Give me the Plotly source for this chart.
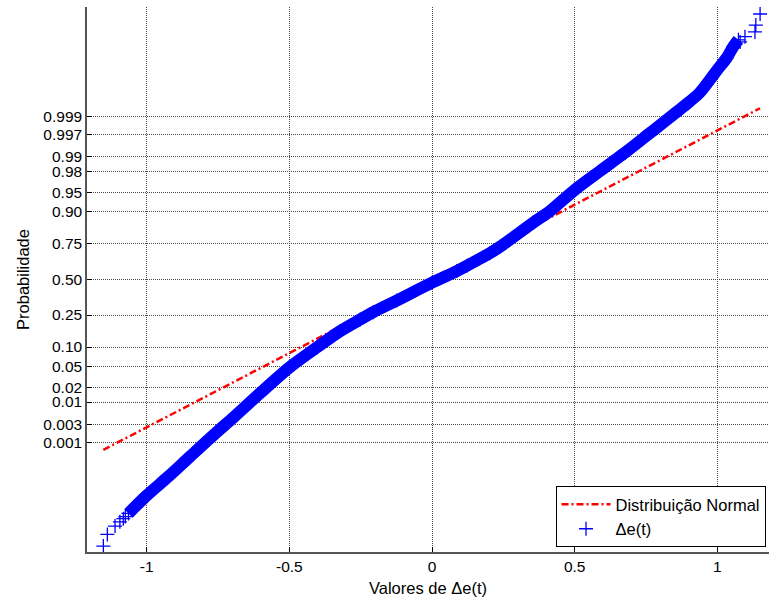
import plotly.graph_objects as go
from statistics import NormalDist

# ---- data (x = value of Δe(t), z = normal quantile of plotting position) ----
core_x = [-1.064, -1.0, -0.924, -0.848, -0.755, -0.696, -0.603, -0.5, -0.404, -0.322,
          -0.252, -0.206, -0.124, 0.0, 0.087, 0.122, 0.203, 0.238, 0.355, 0.414,
          0.5, 0.589, 0.677, 0.764, 0.881, 0.939, 1.0, 1.032, 1.056, 1.074]
core_z = [-4.44, -4.10, -3.74, -3.36, -2.90, -2.62, -2.16, -1.67, -1.29, -0.98,
          -0.76, -0.62, -0.40, -0.06, 0.16, 0.26, 0.50, 0.62, 1.08, 1.30,
          1.70, 2.06, 2.41, 2.78, 3.28, 3.55, 3.98, 4.20, 4.42, 4.55]

low_tail_x = [-1.152, -1.138, -1.111, -1.094, -1.082, -1.075]
low_tail_z = [-5.06, -4.84, -4.68, -4.60, -4.54, -4.50]
high_tail_x = [1.080, 1.097, 1.132, 1.135, 1.150]
high_tail_z = [4.51, 4.61, 4.70, 4.83, 5.04]

# fitted normal distribution
fit_mu = -0.004
fit_sigma = 0.355

prob_ticks = [0.001, 0.003, 0.01, 0.02, 0.05, 0.10, 0.25, 0.50, 0.75, 0.90, 0.95, 0.98, 0.99, 0.997, 0.999]
prob_labels = ["0.001", "0.003", "0.01", "0.02", "0.05", "0.10", "0.25", "0.50", "0.75",
               "0.90", "0.95", "0.98", "0.99", "0.997", "0.999"]
x_ticks = [-1, -0.5, 0, 0.5, 1]
x_labels = ["-1", "-0.5", "0", "0.5", "1"]

# ---- figure ----
nd = NormalDist()
y_tickvals = [nd.inv_cdf(p) for p in prob_ticks]

all_x = low_tail_x + core_x + high_tail_x
all_z = low_tail_z + core_z + high_tail_z
xmin, xmax = min(all_x), max(all_x)
line_x = [xmin, xmax]
line_z = [(v - fit_mu) / fit_sigma for v in line_x]

FONT = "Liberation Sans, Arial, sans-serif"
BLUE = "rgb(0,0,255)"

fig = go.Figure()
fig.add_trace(go.Scatter(
    x=line_x, y=line_z, mode="lines", name="Distribuição Normal",
    line=dict(color="rgb(255,0,0)", width=2.5, dash="7px,3px,2px,3px"),
))
fig.add_trace(go.Scatter(
    x=core_x, y=core_z, mode="lines", showlegend=False, hoverinfo="skip",
    line=dict(color=BLUE, width=12, shape="spline", smoothing=0.8),
))
fig.add_trace(go.Scatter(
    x=all_x, y=all_z, mode="markers", name="Δe(t)",
    marker=dict(symbol="cross-thin", size=10, color=BLUE, line=dict(color=BLUE, width=1.3)),
))

fig.update_layout(
    width=769, height=601,
    margin=dict(l=87, r=0, t=7, b=49),
    paper_bgcolor="white", plot_bgcolor="white",
    font=dict(family=FONT, size=15.5, color="black"),
    showlegend=True,
    legend=dict(
        x=0.687, y=0.121, xanchor="left", yanchor="top",
        bgcolor="white", bordercolor="black", borderwidth=1,
        font=dict(family=FONT, size=16.5, color="black"),
        tracegroupgap=0, itemwidth=49,
    ),
)
fig.update_xaxes(
    range=[-1.2093, 1.1812],
    tickvals=x_ticks, ticktext=x_labels,
    showgrid=True, gridcolor="#444444", griddash="1px,1px", gridwidth=1,
    zeroline=False,
    showline=True, linecolor="#555555", linewidth=1.5,
    ticks="inside", ticklen=5, tickcolor="black",
    title=dict(text="Valores de Δe(t)", standoff=8, font=dict(size=16.5)),
)
fig.update_yaxes(
    range=[-5.173, 5.173],
    tickvals=y_tickvals, ticktext=prob_labels,
    showgrid=True, gridcolor="#444444", griddash="1px,1px", gridwidth=1,
    zeroline=False,
    showline=True, linecolor="#555555", linewidth=1.5,
    ticks="inside", ticklen=5, tickcolor="black",
    title=dict(text="Probabilidade", standoff=10, font=dict(size=16.5)),
)

fig.write_html("out.html")
